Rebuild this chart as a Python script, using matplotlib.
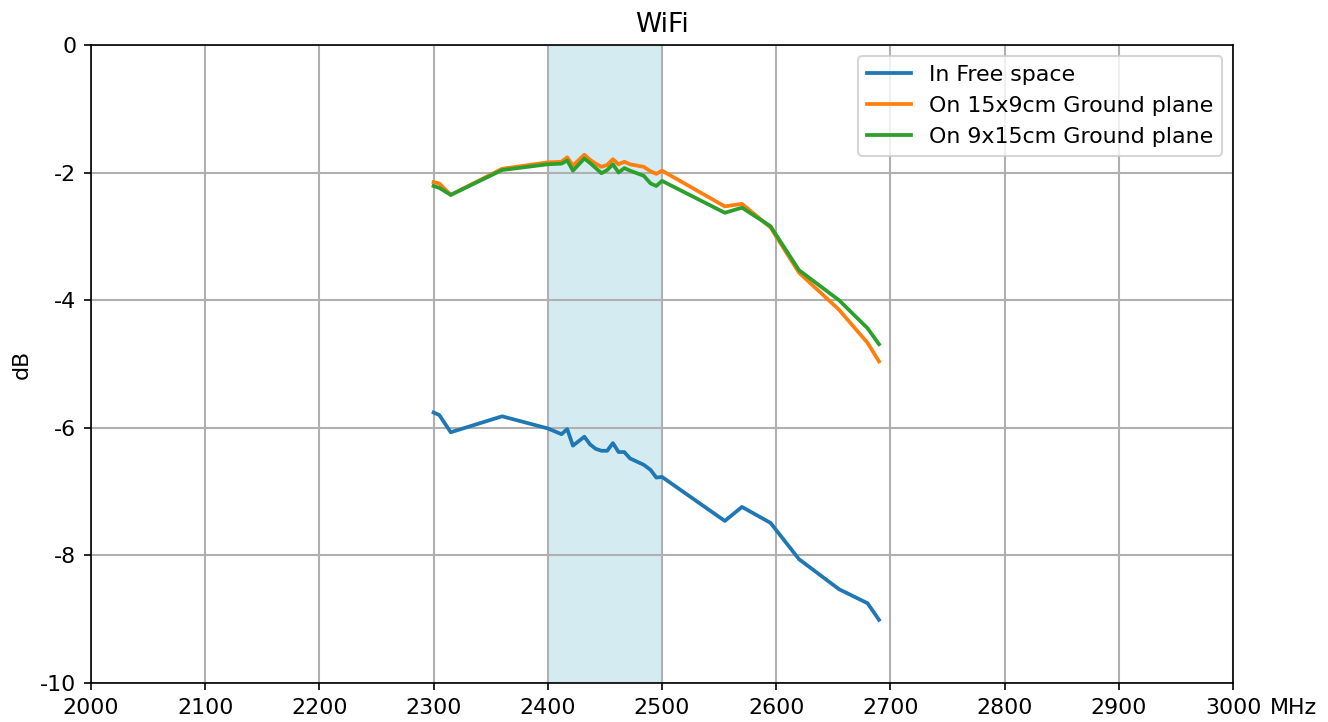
import matplotlib
matplotlib.use("Agg")
import matplotlib.pyplot as plt

plt.rcParams["axes.unicode_minus"] = False
plt.rcParams["font.size"] = 10.6

freq = [2300, 2305, 2315, 2360, 2400, 2412, 2417, 2422, 2432, 2437, 2442, 2447,
        2452, 2457, 2462, 2467, 2472, 2484, 2490, 2495, 2500, 2555, 2570, 2595,
        2620, 2655, 2680, 2690]
free_space = [-5.76, -5.80, -6.07, -5.82, -6.01, -6.10, -6.02, -6.28, -6.14, -6.26,
              -6.33, -6.36, -6.36, -6.24, -6.38, -6.38, -6.48, -6.58, -6.66, -6.78,
              -6.77, -7.46, -7.24, -7.49, -8.06, -8.53, -8.75, -9.01]
gp_15x9 = [-2.15, -2.17, -2.35, -1.94, -1.84, -1.83, -1.76, -1.89, -1.72, -1.80,
           -1.86, -1.91, -1.88, -1.79, -1.87, -1.83, -1.87, -1.91, -1.98, -2.02,
           -1.97, -2.53, -2.49, -2.86, -3.57, -4.15, -4.67, -4.96]
gp_9x15 = [-2.21, -2.24, -2.35, -1.96, -1.87, -1.86, -1.81, -1.97, -1.78, -1.85,
           -1.93, -2.01, -1.96, -1.87, -2.00, -1.93, -1.97, -2.05, -2.17, -2.21,
           -2.13, -2.63, -2.55, -2.84, -3.53, -4.00, -4.44, -4.69]
band = (2400, 2500)
xticks = list(range(2000, 3001, 100))
yticks = [0, -2, -4, -6, -8, -10]

fig = plt.figure(figsize=(1328 / 150, 722 / 150), dpi=150)
ax = fig.add_axes([0.0685, 0.054, 0.86, 0.8837])

ax.axvspan(*band, color="lightblue", alpha=0.5, zorder=0)
ax.plot(freq, free_space, label="In Free space", lw=1.8)
ax.plot(freq, gp_15x9, label="On 15x9cm Ground plane", lw=1.8)
ax.plot(freq, gp_9x15, label="On 9x15cm Ground plane", lw=1.8)

ax.set_xlim(2000, 3000)
ax.set_ylim(-10, 0)
ax.set_xticks(xticks)
ax.set_yticks(yticks)
ax.grid(True, color="#b0b0b0", lw=1)
ax.set_axisbelow(True)
ax.set_title("WiFi")
ax.set_ylabel("dB")
ax.annotate("MHz", xy=(1, 0), xycoords="axes fraction", xytext=(17.5, -7),
            textcoords="offset points", ha="left", va="top")
ax.legend(loc="upper right")

fig.savefig("out.png", dpi=150)
